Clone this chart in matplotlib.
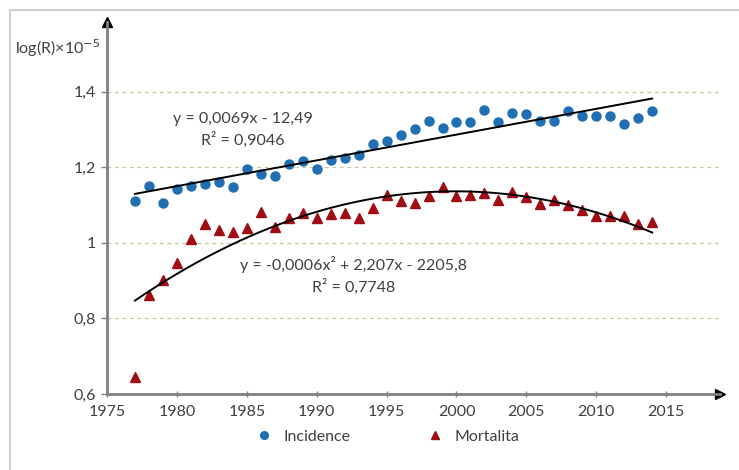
"""Incidence and mortality, log(R)x10^-5, 1977-2014, with trend lines."""

import matplotlib

matplotlib.use("Agg")
import matplotlib.pyplot as plt
import numpy as np
from matplotlib.patches import Rectangle

plt.rcParams["font.family"] = ["Lato", "DejaVu Sans"]

years = np.arange(1977, 2015)

incidence = [
    1.111, 1.151, 1.106, 1.143, 1.151, 1.156, 1.162, 1.148, 1.196, 1.183,
    1.177, 1.209, 1.217, 1.196, 1.220, 1.225, 1.233, 1.262, 1.270, 1.286,
    1.302, 1.323, 1.305, 1.321, 1.321, 1.352, 1.321, 1.344, 1.342, 1.323,
    1.323, 1.350, 1.336, 1.336, 1.336, 1.315, 1.331, 1.350,
]

mortalita = [
    0.646, 0.862, 0.902, 0.948, 1.010, 1.050, 1.034, 1.030, 1.039, 1.083,
    1.041, 1.065, 1.080, 1.067, 1.077, 1.080, 1.067, 1.092, 1.126, 1.111,
    1.107, 1.123, 1.148, 1.125, 1.126, 1.133, 1.114, 1.135, 1.121, 1.103,
    1.114, 1.101, 1.086, 1.072, 1.072, 1.072, 1.050, 1.056,
]

x_ticks = [1975, 1980, 1985, 1990, 1995, 2000, 2005, 2010, 2015]
y_ticks = [0.6, 0.8, 1.0, 1.2, 1.4]
y_tick_labels = ["0,6", "0,8", "1", "1,2", "1,4"]

eq_inc = "y = 0,0069x - 12,49\nR² = 0,9046"
eq_mort = "y = -0,0006x² + 2,207x - 2205,8\nR² = 0,7748"

TEXT = "#404040"
AXIS = "#808080"

fig = plt.figure(figsize=(7.39, 4.70), dpi=100)
fig.patches.append(
    Rectangle((10 / 739, -0.1), 2.0, 1 - 10 / 470 + 0.1,
              transform=fig.transFigure, fill=False,
              edgecolor="#d0d0d0", linewidth=1.5)
)
ax = fig.add_axes([107 / 739, 1 - 394 / 470, (720 - 107) / 739, (394 - 22) / 470])

ax.set_xlim(1975, 2018.85)
ax.set_ylim(0.6, 1.585)

for v in y_ticks[1:]:
    ax.axhline(v, color="#c8c8a0", linestyle=(0, (3, 3)), linewidth=0.9, zorder=0)

ax.plot(years, incidence, "o", color="#1f6fb2", markersize=6.5,
        label="Incidence", zorder=3)
ax.plot(years, mortalita, "^", color="#a00d14", markersize=6.5,
        label="Mortalita", zorder=3)

# trend lines fitted to the same data
xs = np.linspace(years[0], years[-1], 200)
lin = np.polyfit(years, incidence, 1)
ax.plot(xs, np.polyval(lin, xs), color="black", linewidth=1.4, zorder=4)
quad = np.polyfit(years - 1995.0, mortalita, 2)
ax.plot(xs, np.polyval(quad, xs - 1995.0), color="black", linewidth=1.4, zorder=4)

ax.text(1984.75, 1.299, eq_inc, ha="center", va="center", fontsize=11.5,
        color=TEXT, linespacing=1.5)
ax.text(1992.65, 0.914, eq_mort, ha="center", va="center", fontsize=11.5,
        color=TEXT, linespacing=1.5)

for side in ("top", "right"):
    ax.spines[side].set_visible(False)
for side in ("left", "bottom"):
    ax.spines[side].set_color(AXIS)
    ax.spines[side].set_linewidth(2)
ax.plot(1, 0, ">", color="black", markersize=7, transform=ax.transAxes, clip_on=False)
ax.plot(0, 1, "^", color="black", markersize=7, transform=ax.transAxes, clip_on=False)

ax.set_xticks(x_ticks)
ax.set_xticklabels([str(t) for t in x_ticks])
ax.set_yticks(y_ticks)
ax.set_yticklabels(y_tick_labels)
ax.tick_params(axis="both", colors=AXIS, labelcolor=TEXT, labelsize=11.5,
               length=4, width=1)
ax.tick_params(axis="x", direction="inout", pad=6)
ax.tick_params(axis="y", direction="out", pad=4)

fig.text(15 / 739, 1 - 48 / 470, "log(R)×10$^{-5}$", fontsize=11.5,
         color=TEXT, ha="left", va="center")

ax.legend(loc="center", bbox_to_anchor=(0.458, -0.115), ncol=2, frameon=False,
          fontsize=11.5, labelcolor=TEXT, handletextpad=0.7, columnspacing=4.8,
          handlelength=1.0, markerscale=0.85)

fig.savefig("out.png", dpi=100)
